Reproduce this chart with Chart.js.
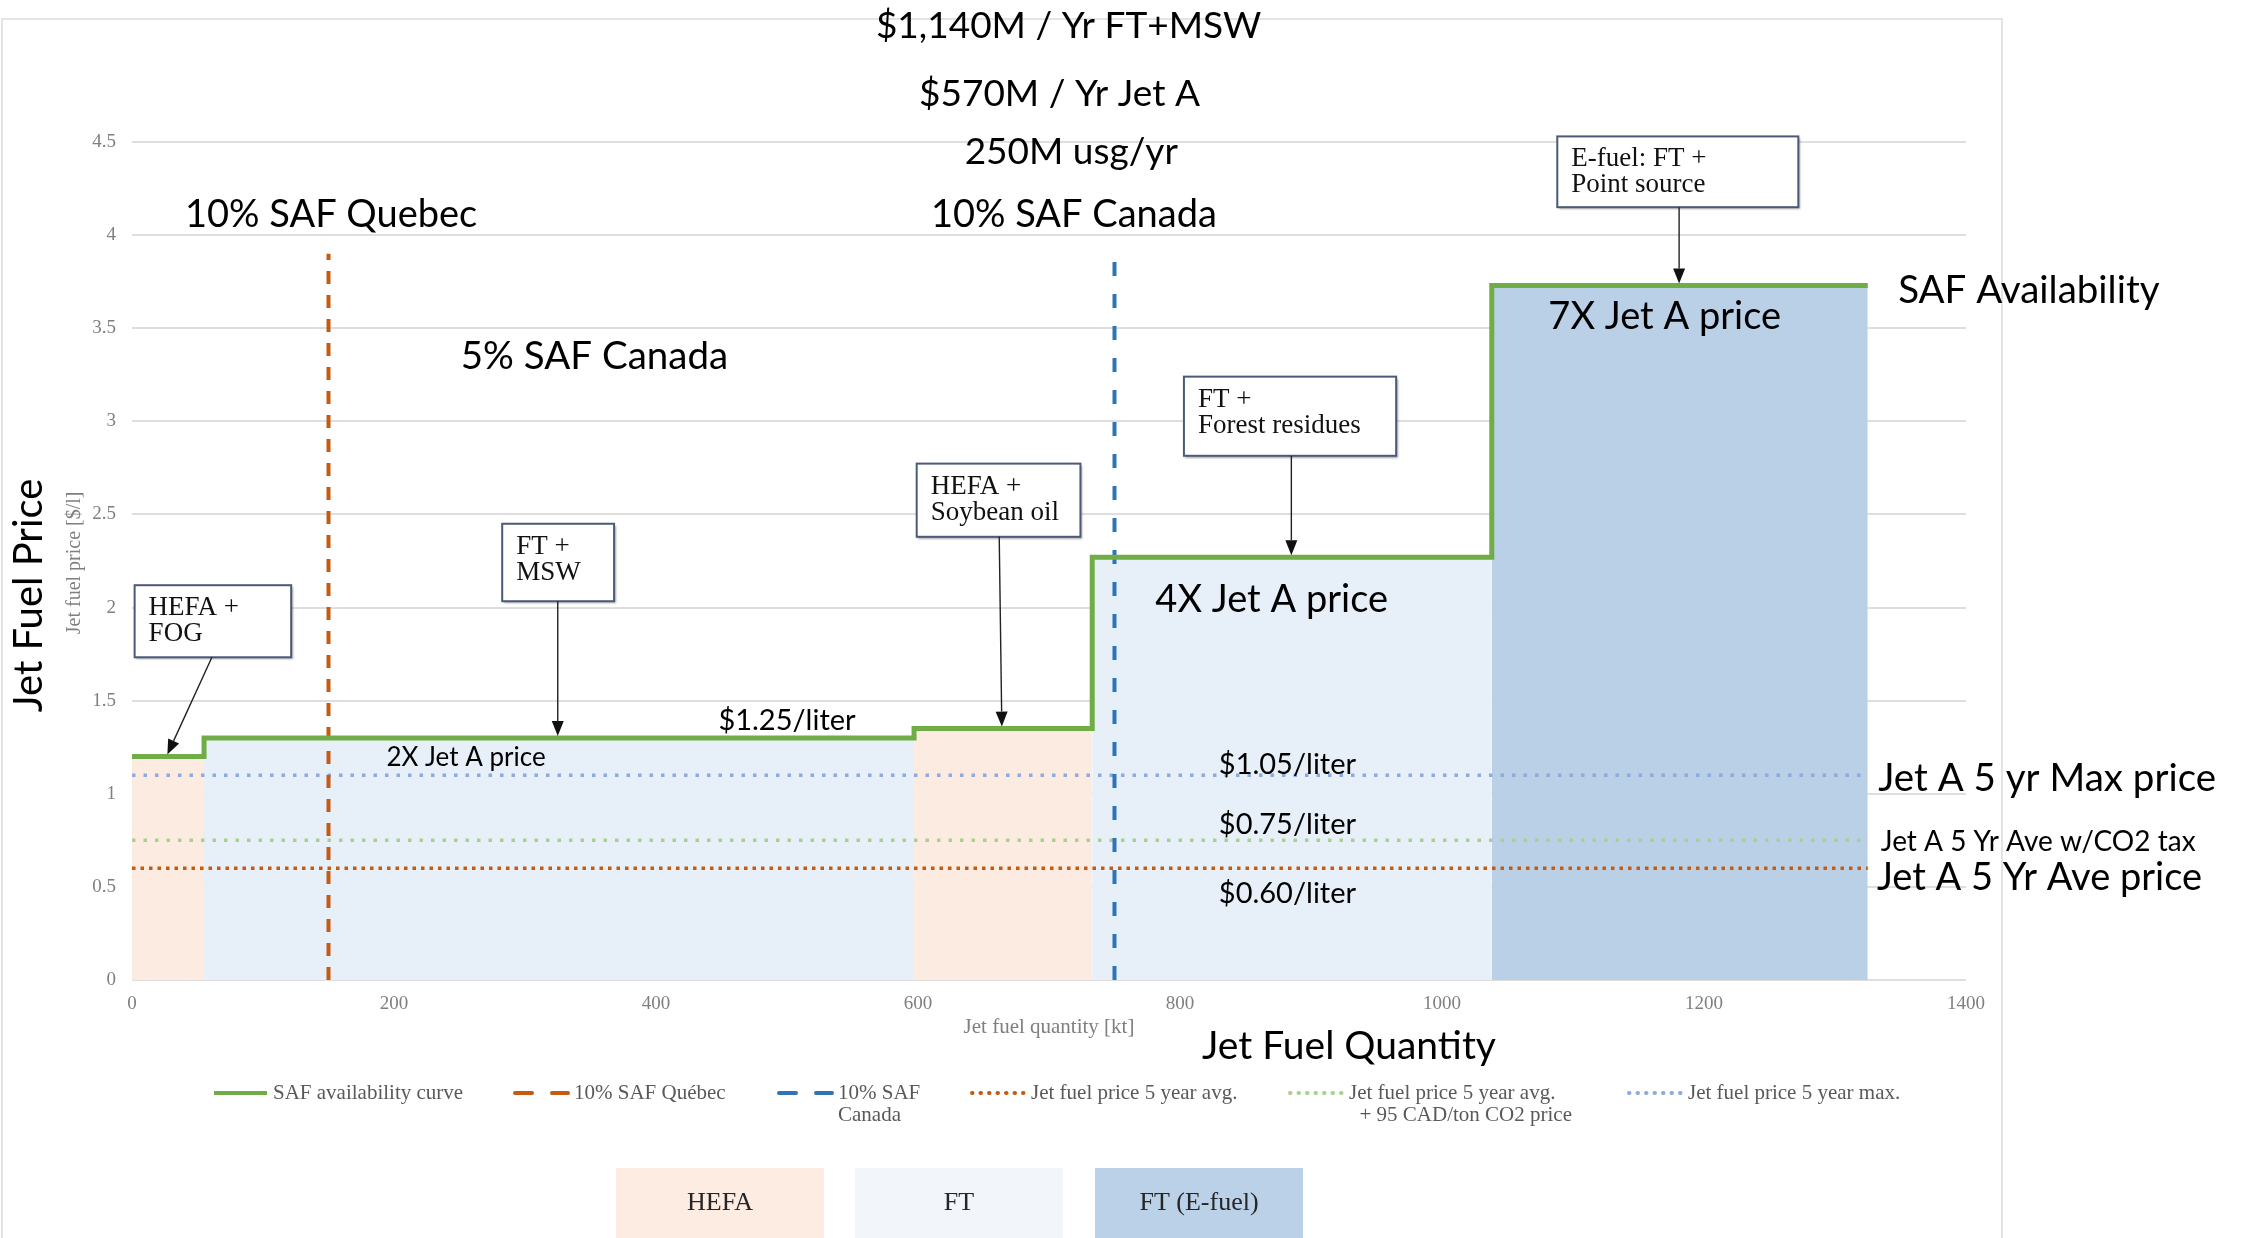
<!DOCTYPE html>
<html>
<head>
<meta charset="utf-8">
<script src="https://cdn.jsdelivr.net/npm/chart.js@4.4.1/dist/chart.umd.min.js"></script>
<style>
html, body { margin: 0; padding: 0; background: #fff; }
#wrap { width: 2250px; height: 1238px; position: relative; }
</style>
</head>
<body>
<div id="wrap"><canvas id="myChart"></canvas></div>
<script>
//** DATA */
const segmentNames = [['HEFA +', 'FOG'], ['FT +', 'MSW'], ['HEFA +', 'Soybean oil'], ['FT +', 'Forest residues'], ['E-fuel: FT +', 'Point source']];
const segmentType = ['HEFA', 'FT', 'HEFA', 'FT', 'FT (E-fuel)'];
const segmentStart = [0, 55, 597, 733, 1038];   // kt
const segmentEnd = [55, 597, 733, 1038, 1325];  // kt
const segmentPrice = [1.2, 1.3, 1.35, 2.27, 3.73]; // $/l

const quebecTarget = 150;   // kt, 10% SAF Quebec
const canadaTarget = 750;   // kt, 10% SAF Canada
const targetLineTop = 3.9;

const jetAvgPrice = 0.6;
const jetAvgCO2Price = 0.75;
const jetMaxPrice = 1.1;
const priceLineEnd = 1325;

const xTickValues = [0, 200, 400, 600, 800, 1000, 1200, 1400];
const yTickValues = [0, 0.5, 1, 1.5, 2, 2.5, 3, 3.5, 4, 4.5];
const categories = ['HEFA', 'FT', 'FT (E-fuel)'];

//** STYLE */
const SANS = "Lato, 'Open Sans', sans-serif";
const SERIF = "'Liberation Serif', 'DejaVu Serif', serif";
const typeColor = { 'HEFA': '#fbebe0', 'FT': '#e7eff8', 'FT (E-fuel)': '#b9d0e6' };
const categoryBoxColor = { 'HEFA': '#fcece2', 'FT': '#f2f6fb', 'FT (E-fuel)': '#bad1e7' };
const GREEN = '#70ad47';
const ORANGE = '#c55a11';
const BLUE = '#2e75b6';

// free text on the chart, placed in data units (kt, $/l)
const plotTexts = [
  { t: '$1,140M / Yr FT+MSW', x: 715, y: 5.12, size: 37 },
  { t: '$570M / Yr Jet A', x: 708, y: 4.76, size: 37 },
  { t: '250M usg/yr', x: 717, y: 4.445, size: 37 },
  { t: '10% SAF Quebec', x: 152, y: 4.11, size: 38 },
  { t: '10% SAF Canada', x: 719, y: 4.11, size: 38 },
  { t: '5% SAF Canada', x: 353, y: 3.35, size: 38.5 },
  { t: 'SAF Availability', x: 1448, y: 3.70, size: 38.5 },
  { t: '7X Jet A price', x: 1170, y: 3.56, size: 38 },
  { t: '4X Jet A price', x: 870, y: 2.04, size: 38 },
  { t: '$1.25/liter', x: 500, y: 1.394, size: 29 },
  { t: '2X Jet A price', x: 255, y: 1.194, size: 26 },
  { t: '$1.05/liter', x: 882, y: 1.156, size: 29 },
  { t: '$0.75/liter', x: 882, y: 0.832, size: 29 },
  { t: '$0.60/liter', x: 882, y: 0.462, size: 29 },
  { t: 'Jet A 5 yr Max price', x: 1333, y: 1.079, size: 38.5, align: 'left' },
  { t: 'Jet A 5 Yr Ave w/CO2 tax', x: 1335, y: 0.74, size: 28, align: 'left' },
  { t: 'Jet A 5 Yr Ave price', x: 1332, y: 0.547, size: 38, align: 'left' },
  { t: 'Jet Fuel Quantity', x: 929, y: -0.354, size: 39 },
];

// callout boxes: [x left, x right, y top, y bottom, arrow start x, arrow end x] in data units
const calloutBoxes = [
  [2, 121.5, 2.12, 1.733, 61, 27],
  [282.6, 368, 2.45, 2.034, 325, 325],
  [599, 724, 2.773, 2.38, 662, 664],
  [803, 965, 3.24, 2.815, 885, 885],
  [1088, 1272, 4.53, 4.15, 1181, 1181],
];

//** DATASETS */
const datasets = [];

// green step curve
const curvePoints = [];
segmentStart.forEach((s, i) => {
  curvePoints.push({ x: s, y: segmentPrice[i] });
  curvePoints.push({ x: segmentEnd[i], y: segmentPrice[i] });
});
datasets.push({
  label: 'SAF availability curve',
  data: curvePoints,
  borderColor: GREEN, borderWidth: 5, pointRadius: 0, fill: false, order: 0,
  legendText: ['SAF availability curve'],
});

datasets.push({
  label: '10% SAF Québec',
  data: [{ x: quebecTarget, y: 0 }, { x: quebecTarget, y: targetLineTop }],
  borderColor: ORANGE, borderWidth: 4, borderDash: [13, 11], pointRadius: 0, fill: false, order: 1,
  legendText: ['10% SAF Québec'],
});
datasets.push({
  label: '10% SAF Canada',
  data: [{ x: canadaTarget, y: 0 }, { x: canadaTarget, y: targetLineTop }],
  borderColor: BLUE, borderWidth: 4, borderDash: [14, 18], pointRadius: 0, fill: false, order: 1,
  legendText: ['10% SAF', 'Canada'],
});
datasets.push({
  label: 'Jet fuel price 5 year avg.',
  data: [{ x: 0, y: jetAvgPrice }, { x: priceLineEnd, y: jetAvgPrice }],
  borderColor: ORANGE, borderWidth: 3.5, borderDash: [3.5, 5], pointRadius: 0, fill: false, order: 2,
  legendText: ['Jet fuel price 5 year avg.'],
});
datasets.push({
  label: 'Jet fuel price 5 year avg. + CO2',
  data: [{ x: 0, y: jetAvgCO2Price }, { x: priceLineEnd, y: jetAvgCO2Price }],
  borderColor: '#a9d18e', borderWidth: 3.5, borderDash: [3.5, 8], pointRadius: 0, fill: false, order: 2,
  legendText: ['Jet fuel price 5 year avg.', '  + 95 CAD/ton CO2 price'],
});
datasets.push({
  label: 'Jet fuel price 5 year max.',
  data: [{ x: 0, y: jetMaxPrice }, { x: priceLineEnd, y: jetMaxPrice }],
  borderColor: '#8faadc', borderWidth: 3.5, borderDash: [3.5, 8], pointRadius: 0, fill: false, order: 2,
  legendText: ['Jet fuel price 5 year max.'],
});

// filled areas under each step
segmentStart.forEach((s, i) => {
  datasets.push({
    label: segmentType[i],
    data: [{ x: s, y: segmentPrice[i] }, { x: segmentEnd[i], y: segmentPrice[i] }],
    borderWidth: 0, borderColor: 'rgba(0,0,0,0)', pointRadius: 0,
    fill: 'origin', backgroundColor: typeColor[segmentType[i]], order: 3,
  });
});

//** OVERLAY: texts, callouts, legend */
const legendX = [211, 512, 776, 969, 1287, 1626];
const legendY = 1093;
const categoryBoxX = [616, 855, 1095];

function arrow(ctx, x0, y0, x1, y1) {
  const a = Math.atan2(y1 - y0, x1 - x0);
  const L = 15, W = 6;
  ctx.beginPath();
  ctx.moveTo(x0, y0);
  ctx.lineTo(x1 - L * Math.cos(a), y1 - L * Math.sin(a));
  ctx.stroke();
  ctx.beginPath();
  ctx.moveTo(x1, y1);
  ctx.lineTo(x1 - L * Math.cos(a) + W * Math.sin(a), y1 - L * Math.sin(a) - W * Math.cos(a));
  ctx.lineTo(x1 - L * Math.cos(a) - W * Math.sin(a), y1 - L * Math.sin(a) + W * Math.cos(a));
  ctx.closePath();
  ctx.fill();
}

const overlay = {
  id: 'overlay',
  afterDraw(chart) {
    const { ctx, scales: { x, y } } = chart;
    const px = v => x.getPixelForValue(v);
    const py = v => y.getPixelForValue(v);
    ctx.save();

    // outer frame of the figure
    ctx.strokeStyle = '#e4e4e4';
    ctx.lineWidth = 2;
    ctx.strokeRect(2, 19, 2000, 1240);

    // axis titles
    ctx.fillStyle = '#000';
    ctx.font = '40px ' + SANS;
    ctx.textAlign = 'center';
    ctx.textBaseline = 'middle';
    ctx.save();
    ctx.translate(29, py(2.065));
    ctx.rotate(-Math.PI / 2);
    ctx.fillText('Jet Fuel Price', 0, 0);
    ctx.restore();

    ctx.fillStyle = '#7f7f7f';
    ctx.font = '20px ' + SERIF;
    ctx.save();
    ctx.translate(75, py(2.24));
    ctx.rotate(-Math.PI / 2);
    ctx.fillText('Jet fuel price [$/l]', 0, 0);
    ctx.restore();
    ctx.font = '21px ' + SERIF;
    ctx.fillText('Jet fuel quantity [kt]', px(700), py(-0.254));

    // free texts
    ctx.fillStyle = '#000';
    plotTexts.forEach(p => {
      ctx.font = p.size + 'px ' + SANS;
      ctx.textAlign = p.align || 'center';
      ctx.fillText(p.t, px(p.x), py(p.y));
    });

    // callout boxes with arrows
    calloutBoxes.forEach((b, i) => {
      const l = px(b[0]), r = px(b[1]), t = py(b[2]), bt = py(b[3]);
      ctx.save();
      ctx.shadowColor = 'rgba(0,0,0,0.35)';
      ctx.shadowOffsetX = 1.5;
      ctx.shadowOffsetY = 2;
      ctx.shadowBlur = 2;
      ctx.fillStyle = '#fff';
      ctx.fillRect(l, t, r - l, bt - t);
      ctx.restore();
      ctx.strokeStyle = '#4a5a78';
      ctx.lineWidth = 2;
      ctx.strokeRect(l, t, r - l, bt - t);
      ctx.fillStyle = '#111';
      ctx.font = '27px ' + SERIF;
      ctx.textAlign = 'left';
      ctx.textBaseline = 'alphabetic';
      segmentNames[i].forEach((line, k) => ctx.fillText(line, l + 14, t + 30 + k * 26));
      ctx.strokeStyle = '#222';
      ctx.fillStyle = '#111';
      ctx.lineWidth = 1.4;
      arrow(ctx, px(b[4]), bt, px(b[5]), py(segmentPrice[i]) - 2);
    });

    // legend
    ctx.textBaseline = 'middle';
    ctx.textAlign = 'left';
    ctx.font = '21px ' + SERIF;
    chart.data.datasets.filter(d => d.legendText).forEach((d, i) => {
      const x0 = legendX[i];
      ctx.save();
      ctx.strokeStyle = d.borderColor;
      ctx.lineWidth = 4;
      ctx.lineCap = d.borderDash ? 'round' : 'butt';
      if (d.borderDash) {
        const dash = d.borderDash[0] > 10 ? [17, 20] : [0.5, 8];
        ctx.setLineDash(dash);
      }
      ctx.beginPath();
      ctx.moveTo(x0 + 3, legendY);
      ctx.lineTo(x0 + 56, legendY);
      ctx.stroke();
      ctx.restore();
      ctx.fillStyle = '#595959';
      d.legendText.forEach((line, k) => ctx.fillText(line, x0 + 62, legendY + k * 22));
    });

    // category key boxes
    categories.forEach((c, i) => {
      ctx.fillStyle = categoryBoxColor[c];
      ctx.fillRect(categoryBoxX[i], 1168, 208, 75);
      ctx.fillStyle = '#262626';
      ctx.font = '26px ' + SERIF;
      ctx.textAlign = 'center';
      ctx.fillText(c, categoryBoxX[i] + 104, 1203);
    });

    ctx.restore();
  }
};

//** CHART */
const ctxEl = document.getElementById('myChart');
const chart = new Chart(ctxEl, {
  type: 'line',
  data: { datasets: datasets },
  options: {
    responsive: true,
    maintainAspectRatio: false,
    animation: false,
    events: [],
    layout: { padding: { left: 72, right: 284, top: 142, bottom: 208 } },
    plugins: { legend: { display: false }, tooltip: { enabled: false } },
    scales: {
      x: {
        type: 'linear', min: 0, max: 1400,
        afterBuildTicks: s => { s.ticks = xTickValues.map(v => ({ value: v })); },
        ticks: { callback: v => String(v), color: '#7f7f7f', font: { family: SERIF, size: 19 }, padding: 5, maxRotation: 0 },
        grid: { display: false },
        border: { display: false },
        afterFit: s => { s.height = 50; },
      },
      y: {
        min: 0, max: 4.5,
        afterBuildTicks: s => { s.ticks = yTickValues.map(v => ({ value: v })); },
        ticks: { callback: v => String(v), color: '#7f7f7f', font: { family: SERIF, size: 19 }, padding: 16 },
        grid: { color: '#dedede', lineWidth: 2, drawTicks: false },
        border: { display: false },
        afterFit: s => { s.width = 60; },
      },
    },
  },
  plugins: [overlay],
});
</script>
</body>
</html>
